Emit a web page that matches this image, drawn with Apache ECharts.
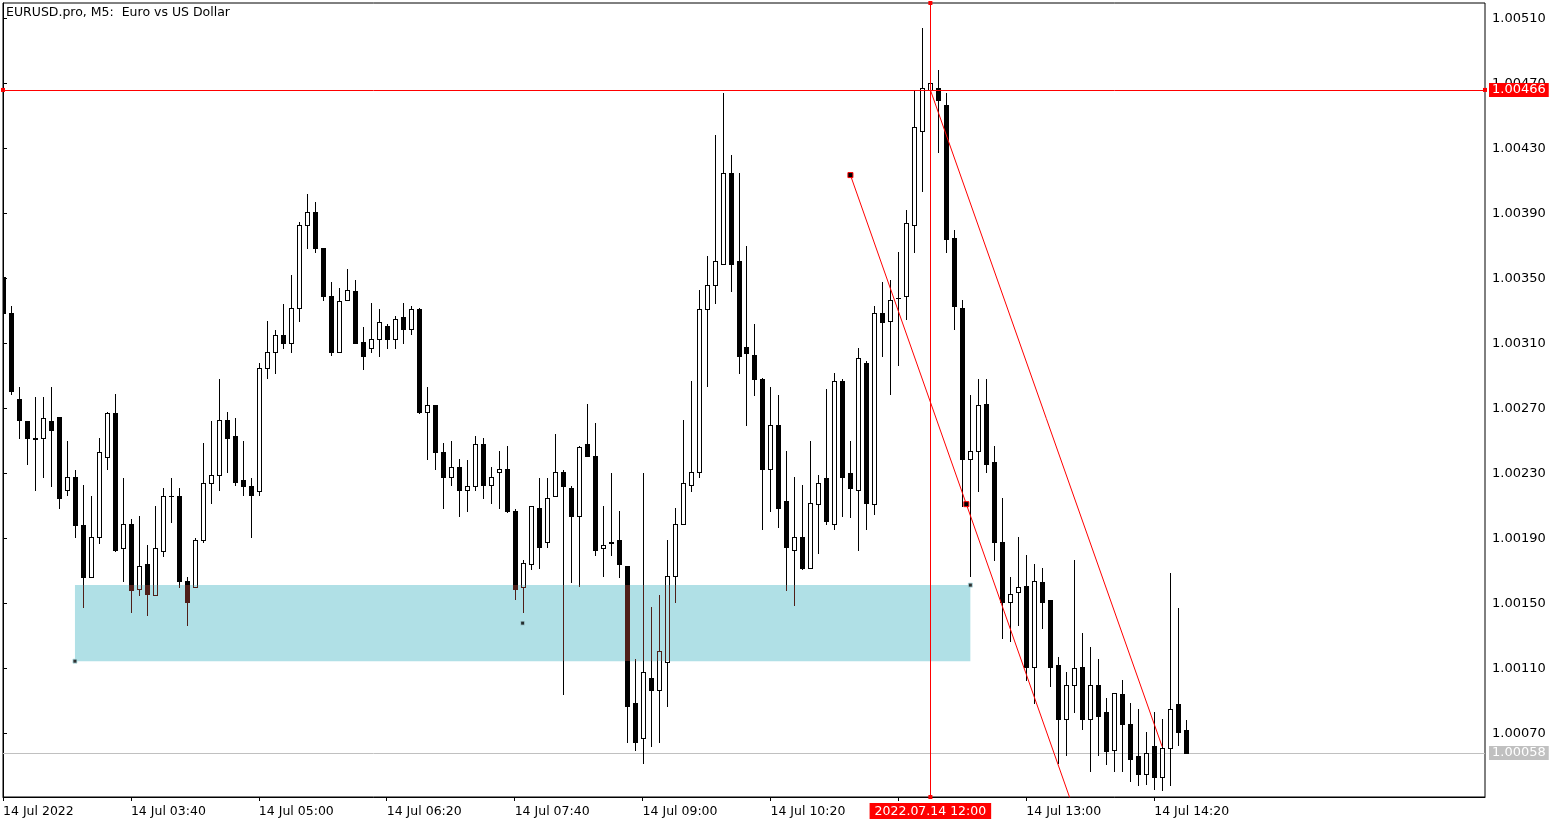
<!DOCTYPE html>
<html><head><meta charset="utf-8">
<script src="https://cdn.jsdelivr.net/npm/echarts@6/dist/echarts.min.js"></script>
<style>html,body{margin:0;padding:0;background:#fff}#c{width:1563px;height:825px}</style>
</head><body><div id="c"></div>
<script>
// ---- data (EURUSD.pro M5, 14 Jul 2022, bar 0 = 02:20) ----
const opens = [
1.00351,1.00329,1.00276,1.00262,1.00252,1.00252,1.00262,1.00265,1.00220,1.00228,
1.00198,1.00166,1.00191,1.00240,1.00267,1.00184,1.00199,1.00159,1.00174,1.00155,
1.00182,1.00216,1.00216,1.00164,1.00160,1.00189,1.00224,1.00229,1.00263,1.00253,
1.00226,1.00222,1.00219,1.00295,1.00305,1.00315,1.00310,1.00332,1.00383,1.00391,
1.00369,1.00339,1.00305,1.00337,1.00342,1.00311,1.00307,1.00313,1.00321,1.00313,
1.00326,1.00319,1.00331,1.00268,1.00272,1.00243,1.00228,1.00234,1.00220,1.00222,
1.00248,1.00223,1.00231,1.00233,1.00207,1.00160,1.00174,1.00209,1.00188,1.00216,
1.00231,1.00221,1.00204,1.00248,1.00241,1.00184,1.00187,1.00189,1.00173,1.00089,
1.00067,1.00104,1.00097,1.00114,1.00167,1.00199,1.00223,1.00231,1.00331,1.00346,
1.00359,1.00415,1.00361,1.00308,1.00303,1.00288,1.00233,1.00260,1.00213,1.00183,
1.00191,1.00172,1.00211,1.00227,1.00199,1.00287,1.00230,1.00220,1.00298,1.00211,
1.00329,1.00324,1.00338,1.00339,1.00383,1.00441,1.00466,1.00467,1.00457,1.00375,
1.00332,1.00239,1.00244,1.00273,1.00237,1.00188,1.00151,1.00157,1.00161,1.00111,
1.00163,1.00152,1.00112,1.00079,1.00100,1.00111,1.00079,1.00100,1.00083,1.00060,
1.00094,1.00076,1.00056,1.00045,1.00062,1.00043,1.00061,1.00088,1.00072];
const highs = [
1.00352,1.00333,1.00283,1.00262,1.00277,1.00277,1.00283,1.00265,1.00250,1.00232,
1.00223,1.00216,1.00252,1.00268,1.00279,1.00227,1.00202,1.00204,1.00186,1.00210,
1.00221,1.00227,1.00221,1.00166,1.00190,1.00249,1.00262,1.00288,1.00268,1.00264,
1.00250,1.00227,1.00298,1.00324,1.00318,1.00334,1.00352,1.00385,1.00402,1.00397,
1.00369,1.00348,1.00344,1.00356,1.00349,1.00320,1.00335,1.00331,1.00322,1.00327,
1.00335,1.00333,1.00332,1.00283,1.00272,1.00249,1.00250,1.00239,1.00238,1.00253,
1.00252,1.00234,1.00244,1.00247,1.00208,1.00177,1.00210,1.00227,1.00227,1.00254,
1.00232,1.00222,1.00247,1.00273,1.00261,1.00210,1.00230,1.00207,1.00173,1.00116,
1.00230,1.00148,1.00155,1.00189,1.00209,1.00263,1.00287,1.00343,1.00364,1.00438,
1.00464,1.00426,1.00415,1.00370,1.00322,1.00289,1.00283,1.00278,1.00244,1.00228,
1.00223,1.00250,1.00229,1.00282,1.00292,1.00288,1.00250,1.00307,1.00299,1.00333,
1.00348,1.00349,1.00366,1.00392,1.00466,1.00504,1.00471,1.00478,1.00464,1.00380,
1.00337,1.00278,1.00288,1.00288,1.00247,1.00215,1.00166,1.00191,1.00180,1.00174,
1.00172,1.00152,1.00117,1.00108,1.00177,1.00132,1.00123,1.00116,1.00092,1.00095,
1.00103,1.00089,1.00085,1.00071,1.00083,1.00079,1.00169,1.00147,1.00078];
const lows = [
1.00329,1.00279,1.00252,1.00236,1.00220,1.00228,1.00222,1.00209,1.00217,1.00191,
1.00148,1.00166,1.00187,1.00233,1.00182,1.00164,1.00145,1.00155,1.00143,1.00155,
1.00179,1.00200,1.00160,1.00137,1.00160,1.00188,1.00212,1.00220,1.00231,1.00223,
1.00217,1.00191,1.00217,1.00289,1.00292,1.00307,1.00305,1.00324,1.00369,1.00366,
1.00337,1.00303,1.00305,1.00337,1.00310,1.00294,1.00305,1.00302,1.00307,1.00307,
1.00310,1.00316,1.00267,1.00239,1.00233,1.00209,1.00223,1.00204,1.00207,1.00220,
1.00215,1.00212,1.00209,1.00206,1.00153,1.00145,1.00171,1.00172,1.00185,1.00216,
1.00094,1.00163,1.00161,1.00241,1.00180,1.00167,1.00180,1.00166,1.00065,1.00060,
1.00052,1.00062,1.00065,1.00087,1.00151,1.00199,1.00219,1.00228,1.00284,1.00335,
1.00359,1.00342,1.00292,1.00260,1.00278,1.00196,1.00207,1.00197,1.00158,1.00149,
1.00171,1.00172,1.00181,1.00199,1.00196,1.00204,1.00203,1.00183,1.00196,1.00205,
1.00302,1.00279,1.00297,1.00325,1.00366,1.00404,1.00465,1.00428,1.00366,1.00319,
1.00210,1.00167,1.00219,1.00231,1.00177,1.00129,1.00127,1.00137,1.00103,1.00089,
1.00135,1.00099,1.00052,1.00057,1.00083,1.00073,1.00047,1.00057,1.00051,1.00047,
1.00047,1.00041,1.00038,1.00039,1.00036,1.00035,1.00038,1.00063,1.00058];
const closes = [
1.00329,1.00281,1.00263,1.00252,1.00251,1.00264,1.00257,1.00215,1.00228,1.00198,
1.00166,1.00191,1.00243,1.00267,1.00183,1.00199,1.00158,1.00173,1.00156,1.00184,
1.00216,1.00216,1.00164,1.00151,1.00189,1.00224,1.00229,1.00263,1.00252,1.00225,
1.00222,1.00217,1.00295,1.00305,1.00315,1.00310,1.00332,1.00383,1.00391,1.00369,
1.00339,1.00305,1.00336,1.00343,1.00310,1.00302,1.00313,1.00323,1.00313,1.00325,
1.00319,1.00331,1.00268,1.00272,1.00243,1.00228,1.00234,1.00220,1.00222,1.00248,
1.00223,1.00228,1.00233,1.00207,1.00159,1.00175,1.00210,1.00185,1.00215,1.00231,
1.00222,1.00204,1.00246,1.00241,1.00183,1.00186,1.00188,1.00174,1.00087,1.00065,
1.00108,1.00097,1.00121,1.00167,1.00199,1.00224,1.00231,1.00331,1.00346,1.00361,
1.00415,1.00359,1.00302,1.00304,1.00288,1.00233,1.00260,1.00209,1.00185,1.00191,
1.00172,1.00212,1.00224,1.00201,1.00287,1.00228,1.00221,1.00301,1.00212,1.00329,
1.00323,1.00337,1.00338,1.00384,1.00443,1.00467,1.00470,1.00460,1.00374,1.00333,
1.00239,1.00244,1.00272,1.00236,1.00188,1.00151,1.00156,1.00160,1.00111,1.00164,
1.00151,1.00111,1.00079,1.00100,1.00110,1.00079,1.00100,1.00081,1.00059,1.00095,
1.00076,1.00054,1.00045,1.00058,1.00043,1.00061,1.00085,1.00071,1.00058];

const xTickValues = [0, 16, 32, 48, 64, 80, 96, 112, 128, 144];
const xTickLabels = ['14 Jul 2022', '14 Jul 03:40', '14 Jul 05:00', '14 Jul 06:20', '14 Jul 07:40',
                     '14 Jul 09:00', '14 Jul 10:20', '', '14 Jul 13:00', '14 Jul 14:20'];
const yTickValues = [1.0007, 1.0011, 1.0015, 1.0019, 1.0023, 1.0027, 1.0031, 1.0035, 1.0039, 1.0043, 1.0047, 1.0051];
const yLabelValues = [1.0007, 1.0011, 1.0015, 1.0019, 1.0023, 1.0027, 1.0031, 1.0035, 1.0039, 1.0043, 1.0047, 1.0051];

// drawn objects
const zoneCorners = [[9, 1.001613], [121, 1.001145]];
const zoneAnchors = [[9, 1.001145], [65, 1.001379], [121, 1.001613]];
const channelLine = [[106, 1.004136], [120.5, 1.002111], [134, 1.000225]];
const trendLine = [[116, 1.00466], [145, 1.000618]];
const hLinePrice = 1.00466;
const vLineBar = 116;
const vLineLabel = '2022.07.14 12:00';
const bidPrice = 1.00058;

const FONT = 'DejaVu Sans';
const ZONE_COLOR = '#b0e0e6';
const ZONE_DARK = '#4f1f19';

const rows = opens.map((o, i) => [i, o, closes[i], lows[i], highs[i]]);

function renderCandle(params, api) {
  const i = api.value(0);
  const o = api.value(1), c = api.value(2), l = api.value(3), h = api.value(4);
  const pO = api.coord([i, o]);
  const cx = Math.round(pO[0]);
  const yO = Math.round(pO[1]);
  const yC = Math.round(api.coord([i, c])[1]);
  const yH = Math.round(api.coord([i, h])[1]);
  const yL = Math.round(api.coord([i, l])[1]);
  const top = Math.min(yO, yC), bot = Math.max(yO, yC);
  const bull = c > o;
  const rects = [];
  rects.push({x: cx, y: yH, w: 1, h: yL - yH + 1, dark: true});
  rects.push({x: cx - 2, y: top, w: 5, h: bot - top + 1, dark: true});
  if (bull && bot - top >= 2) rects.push({x: cx - 1, y: top + 1, w: 3, h: bot - top - 1, dark: false});
  const children = rects.map(r => ({
    type: 'rect', shape: {x: r.x, y: r.y, width: r.w, height: r.h},
    style: {fill: r.dark ? '#000' : '#fff'}
  }));
  if (i >= zoneCorners[0][0] && i <= zoneCorners[1][0]) {
    const zt = Math.round(api.coord([i, zoneCorners[0][1]])[1]);
    const zb = Math.round(api.coord([i, zoneCorners[1][1]])[1]);
    rects.forEach(r => {
      const y0 = Math.max(r.y, zt), y1 = Math.min(r.y + r.h, zb);
      if (y1 > y0) children.push({
        type: 'rect', shape: {x: r.x, y: y0, width: r.w, height: y1 - y0},
        style: {fill: r.dark ? ZONE_DARK : ZONE_COLOR}
      });
    });
  }
  return {type: 'group', children};
}

const chart = echarts.init(document.getElementById('c'), null, {renderer: 'canvas'});
chart.setOption({
  animation: false,
  backgroundColor: '#fff',
  textStyle: {fontFamily: FONT},
  title: {
    text: 'EURUSD.pro, M5:  Euro vs US Dollar', left: 6, top: 6, padding: 0,
    textStyle: {fontFamily: FONT, fontSize: 12.5, fontWeight: 'normal', color: '#000', lineHeight: 14}
  },
  grid: {left: 2, right: 78, top: 3, bottom: 28, show: true, borderColor: '#000', borderWidth: 1, backgroundColor: '#fff'},
  xAxis: {
    type: 'value', min: 0, max: 185.375,
    axisLine: {show: true, lineStyle: {color: '#000', width: 1}},
    splitLine: {show: false},
    axisTick: {show: true, length: 4, lineStyle: {color: '#000'}, customValues: xTickValues},
    axisLabel: {
      customValues: xTickValues, align: 'left', margin: 8, color: '#000', fontFamily: FONT, fontSize: 12.5,
      formatter: v => { const k = xTickValues.indexOf(Math.round(v)); return k >= 0 ? xTickLabels[k] : ''; }
    }
  },
  yAxis: {
    type: 'value', position: 'right', min: 1.000309, max: 1.005195, scale: true,
    axisLine: {show: true, lineStyle: {color: '#000', width: 1}},
    splitLine: {show: false},
    axisTick: {show: true, length: 4, lineStyle: {color: '#000'}, customValues: yTickValues},
    axisLabel: {
      customValues: yLabelValues, margin: 7, color: '#000', fontFamily: FONT, fontSize: 13,
      formatter: v => v.toFixed(5)
    }
  },
  series: [
    {
      name: 'zone', type: 'scatter', z: 1, silent: true,
      data: zoneAnchors, symbol: 'rect', symbolSize: 4,
      itemStyle: {color: '#000', borderColor: ZONE_COLOR, borderWidth: 1},
      markArea: {
        silent: true, z: 1,
        itemStyle: {color: ZONE_COLOR, borderWidth: 0},
        data: [[{coord: zoneCorners[0]}, {coord: zoneCorners[1]}]]
      },
      markLine: {
        silent: true, symbol: ['none', 'none'], z: 1, precision: 6,
        lineStyle: {color: '#c0c0c0', width: 1, type: 'solid'},
        label: {show: true, position: 'end', distance: 4, formatter: bidPrice.toFixed(5),
                backgroundColor: '#c0c0c0', color: '#fff', fontFamily: FONT, fontSize: 13, padding: [1, 3, 0, 3]},
        data: [{yAxis: bidPrice}]
      }
    },
    {
      name: 'candles', type: 'custom', z: 2, clip: true, silent: true,
      renderItem: renderCandle,
      encode: {x: 0, y: [1, 2, 3, 4]},
      data: rows
    },
    {
      name: 'channel', type: 'line', z: 3, silent: true, clip: true,
      data: channelLine.map((p, k) => ({value: p, symbol: k < 2 ? 'rect' : 'none'})),
      symbolSize: 5, showSymbol: true,
      itemStyle: {color: '#000', borderColor: '#ff0000', borderWidth: 1},
      lineStyle: {color: '#ff0000', width: 1}
    },
    {
      name: 'trend', type: 'line', z: 3, silent: true, clip: true,
      data: trendLine, showSymbol: false,
      lineStyle: {color: '#ff0000', width: 1},
      markLine: {
        silent: true, z: 4, symbol: ['rect', 'rect'], symbolSize: 4, precision: 6,
        lineStyle: {color: '#ff0000', width: 1, type: 'solid'},
        data: [
          {yAxis: hLinePrice,
           label: {show: true, position: 'end', distance: 4, formatter: hLinePrice.toFixed(5),
                   backgroundColor: '#ff0000', color: '#fff', fontFamily: FONT, fontSize: 13, padding: [1, 3, 0, 3]}},
          {xAxis: vLineBar,
           label: {show: true, position: 'start', distance: 6, formatter: vLineLabel,
                   backgroundColor: '#ff0000', color: '#fff', fontFamily: FONT, fontSize: 12.5, padding: [2, 5, 1, 5]}}
        ]
      }
    }
  ]
});
</script>
</body></html>
